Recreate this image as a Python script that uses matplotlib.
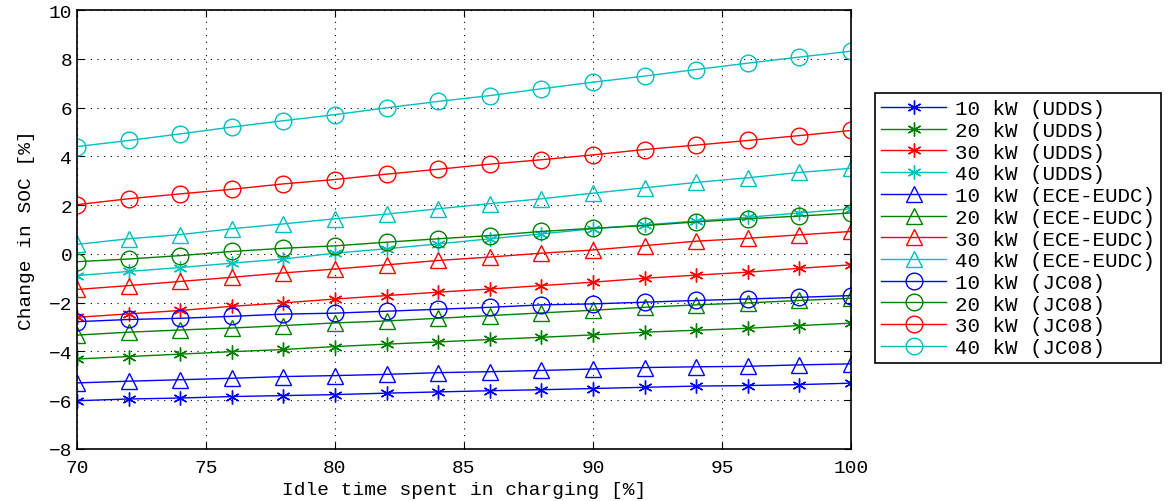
import matplotlib
matplotlib.use("Agg")
import matplotlib.pyplot as plt

plt.rcParams['font.family'] = ['Liberation Mono', 'DejaVu Sans Mono']

idle = [70, 72, 74, 76, 78, 80, 82, 84, 86, 88, 90, 92, 94, 96, 98, 100]

udds_10 = [-6.02, -5.95, -5.91, -5.85, -5.81, -5.77, -5.71, -5.66, -5.61, -5.57, -5.52, -5.47, -5.42, -5.40, -5.36, -5.30]
udds_20 = [-4.31, -4.21, -4.11, -4.01, -3.92, -3.80, -3.70, -3.61, -3.51, -3.42, -3.32, -3.21, -3.13, -3.05, -2.94, -2.84]
udds_30 = [-2.60, -2.46, -2.32, -2.15, -2.01, -1.85, -1.71, -1.57, -1.44, -1.30, -1.16, -1.00, -0.87, -0.75, -0.59, -0.45]
udds_40 = [-0.89, -0.72, -0.56, -0.38, -0.21, 0.03, 0.21, 0.41, 0.62, 0.82, 1.03, 1.19, 1.35, 1.50, 1.68, 1.85]
ece_10 = [-5.29, -5.22, -5.16, -5.10, -5.03, -4.99, -4.94, -4.87, -4.83, -4.78, -4.72, -4.66, -4.63, -4.61, -4.55, -4.51]
ece_20 = [-3.33, -3.21, -3.12, -3.04, -2.94, -2.83, -2.75, -2.64, -2.53, -2.42, -2.31, -2.19, -2.09, -2.01, -1.91, -1.82]
ece_30 = [-1.46, -1.30, -1.13, -0.96, -0.78, -0.62, -0.45, -0.27, -0.13, 0.03, 0.16, 0.34, 0.52, 0.64, 0.78, 0.92]
ece_40 = [0.39, 0.62, 0.79, 1.03, 1.23, 1.44, 1.63, 1.85, 2.06, 2.26, 2.49, 2.71, 2.93, 3.12, 3.34, 3.51]
jc_10 = [-2.78, -2.69, -2.64, -2.56, -2.47, -2.43, -2.35, -2.27, -2.19, -2.09, -2.05, -1.98, -1.91, -1.85, -1.78, -1.71]
jc_20 = [-0.32, -0.21, -0.07, 0.10, 0.23, 0.33, 0.48, 0.62, 0.75, 0.92, 1.05, 1.16, 1.31, 1.44, 1.55, 1.68]
jc_30 = [2.02, 2.26, 2.46, 2.65, 2.87, 3.05, 3.27, 3.47, 3.68, 3.86, 4.06, 4.28, 4.46, 4.65, 4.85, 5.06]
jc_40 = [4.40, 4.65, 4.92, 5.20, 5.46, 5.71, 5.99, 6.25, 6.49, 6.77, 7.04, 7.29, 7.56, 7.82, 8.07, 8.31]

labels = ["10 kW (UDDS)", "20 kW (UDDS)", "30 kW (UDDS)", "40 kW (UDDS)",
          "10 kW (ECE-EUDC)", "20 kW (ECE-EUDC)", "30 kW (ECE-EUDC)", "40 kW (ECE-EUDC)",
          "10 kW (JC08)", "20 kW (JC08)", "30 kW (JC08)", "40 kW (JC08)"]
series = [udds_10, udds_20, udds_30, udds_40, ece_10, ece_20, ece_30, ece_40,
          jc_10, jc_20, jc_30, jc_40]

colors = ['#0000ff', '#008000', '#ff0000', '#00bfbf']
markers = [((6, 2, 0), 10), ('^', 12), ('o', 12)]

fig = plt.figure(figsize=(11.71, 5.02), dpi=100)
ax = fig.add_axes([77/1171, 1 - 450/502, (851-77)/1171, (450-11)/502])

for i, (y, lab) in enumerate(zip(series, labels)):
    m, ms = markers[i // 4]
    c = colors[i % 4]
    ax.plot(idle, y, color=c, lw=1.0, marker=m, markersize=ms,
            markerfacecolor='none', markeredgecolor=c, markeredgewidth=1.0,
            label=lab)

ax.set_xlim(70, 100)
ax.set_ylim(-8, 10)
ax.set_xticks([70, 75, 80, 85, 90, 95, 100])
ax.set_yticks(list(range(-8, 11, 2)))
ax.grid(True, color='black', linestyle=(0, (1, 5)), lw=0.8)
ax.tick_params(direction='in', top=True, right=True, labelsize=14, length=5)
ax.tick_params(axis='x', pad=7)
for s in ax.spines.values():
    s.set_linewidth(1.2)
ax.set_xlabel("Idle time spent in charging [%]", fontsize=14, labelpad=4)
ax.set_ylabel("Change in SOC [%]", fontsize=14, labelpad=10)

leg = ax.legend(loc='upper left', bbox_to_anchor=(875/1171, 1 - 94/502),
                bbox_transform=fig.transFigure, fontsize=15, frameon=True,
                fancybox=False, edgecolor='black', framealpha=1,
                handlelength=3.1, handletextpad=0.45, labelspacing=0.13,
                borderpad=0.3, borderaxespad=0)
leg.get_frame().set_linewidth(1.2)

fig.savefig("out.png", dpi=100)
